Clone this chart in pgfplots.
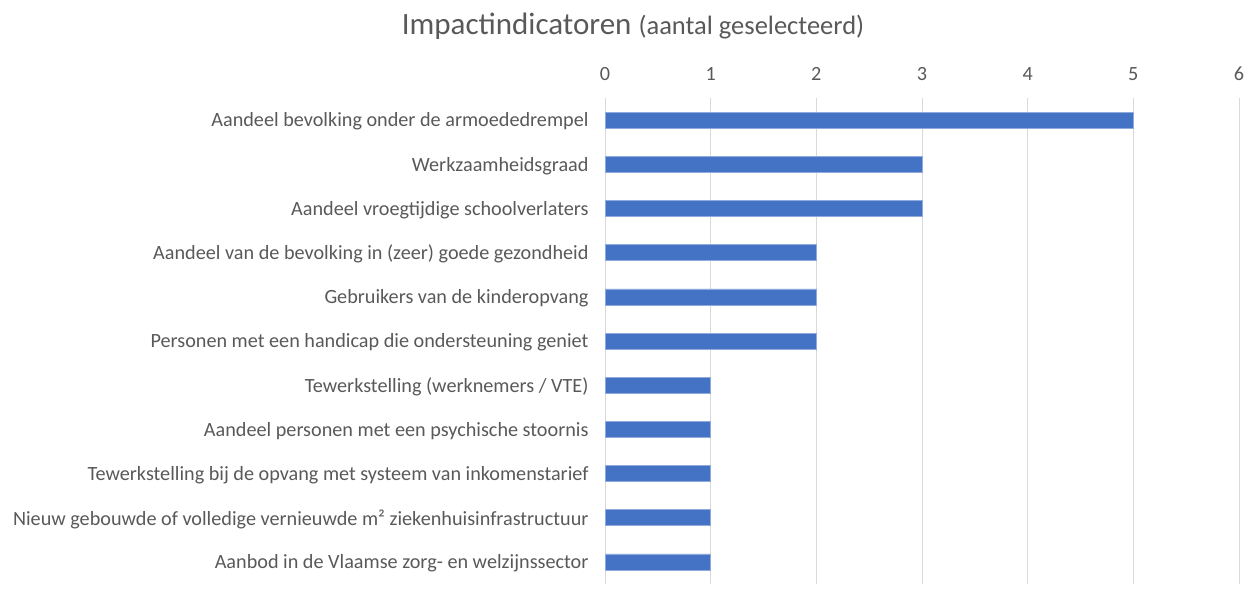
\documentclass[border=0pt]{standalone}
\usepackage{fontspec}
\setmainfont{Carlito}
\usepackage{pgfplots}
\pgfplotsset{compat=1.18}
\definecolor{barblue}{HTML}{4472C4}
\definecolor{gridgray}{HTML}{D9D9D9}
\definecolor{txtgray}{HTML}{595959}

\begin{document}
\begin{tikzpicture}
\useasboundingbox (0,0) rectangle (1250pt,595pt);
\begin{axis}[
  at={(605pt,11pt)}, anchor=south west,
  scale only axis,
  width=634pt, height=486pt,
  xbar, bar width=16pt,
  xmin=0, xmax=6,
  ymin=-0.5, ymax=10.5,
  y dir=reverse,
  axis x line*=top,
  axis y line*=left,
  x axis line style={draw=none},
  y axis line style={draw=gridgray, line width=1pt},
  xtick={0,1,2,3,4,5,6},
  ytick={0,...,10},
  yticklabels={
    Aandeel bevolking onder de armoededrempel,
    Werkzaamheidsgraad,
    Aandeel vroegtijdige schoolverlaters,
    Aandeel van de bevolking in (zeer) goede gezondheid,
    Gebruikers van de kinderopvang,
    Personen met een handicap die ondersteuning geniet,
    Tewerkstelling (werknemers / VTE),
    Aandeel personen met een psychische stoornis,
    Tewerkstelling bij de opvang met systeem van inkomenstarief,
    Nieuw gebouwde of volledige vernieuwde m² ziekenhuisinfrastructuur,
    Aanbod in de Vlaamse zorg- en welzijnssector
  },
  major tick length=0pt,
  xmajorgrids,
  grid style={draw=gridgray, line width=1pt},
  /pgf/number format/assume math mode=true,
  tick label style={font=\fontsize{20.2}{24}\selectfont, text=txtgray},
  xticklabel style={yshift=14pt},
  yticklabel style={xshift=-13pt, yshift=-1.5pt},
  clip=false,
]
\addplot[fill=barblue, draw=barblue!60!white, line width=0.5pt] coordinates {
  (5,0) (3,1) (3,2) (2,3) (2,4) (2,5) (1,6) (1,7) (1,8) (1,9) (1,10)
};
\end{axis}
\node[text=txtgray, anchor=center] at (633pt,569pt)
  {\fontsize{31}{34}\selectfont Impactindicatoren \fontsize{26.5}{30}\selectfont(aantal geselecteerd)};
\end{tikzpicture}
\end{document}
